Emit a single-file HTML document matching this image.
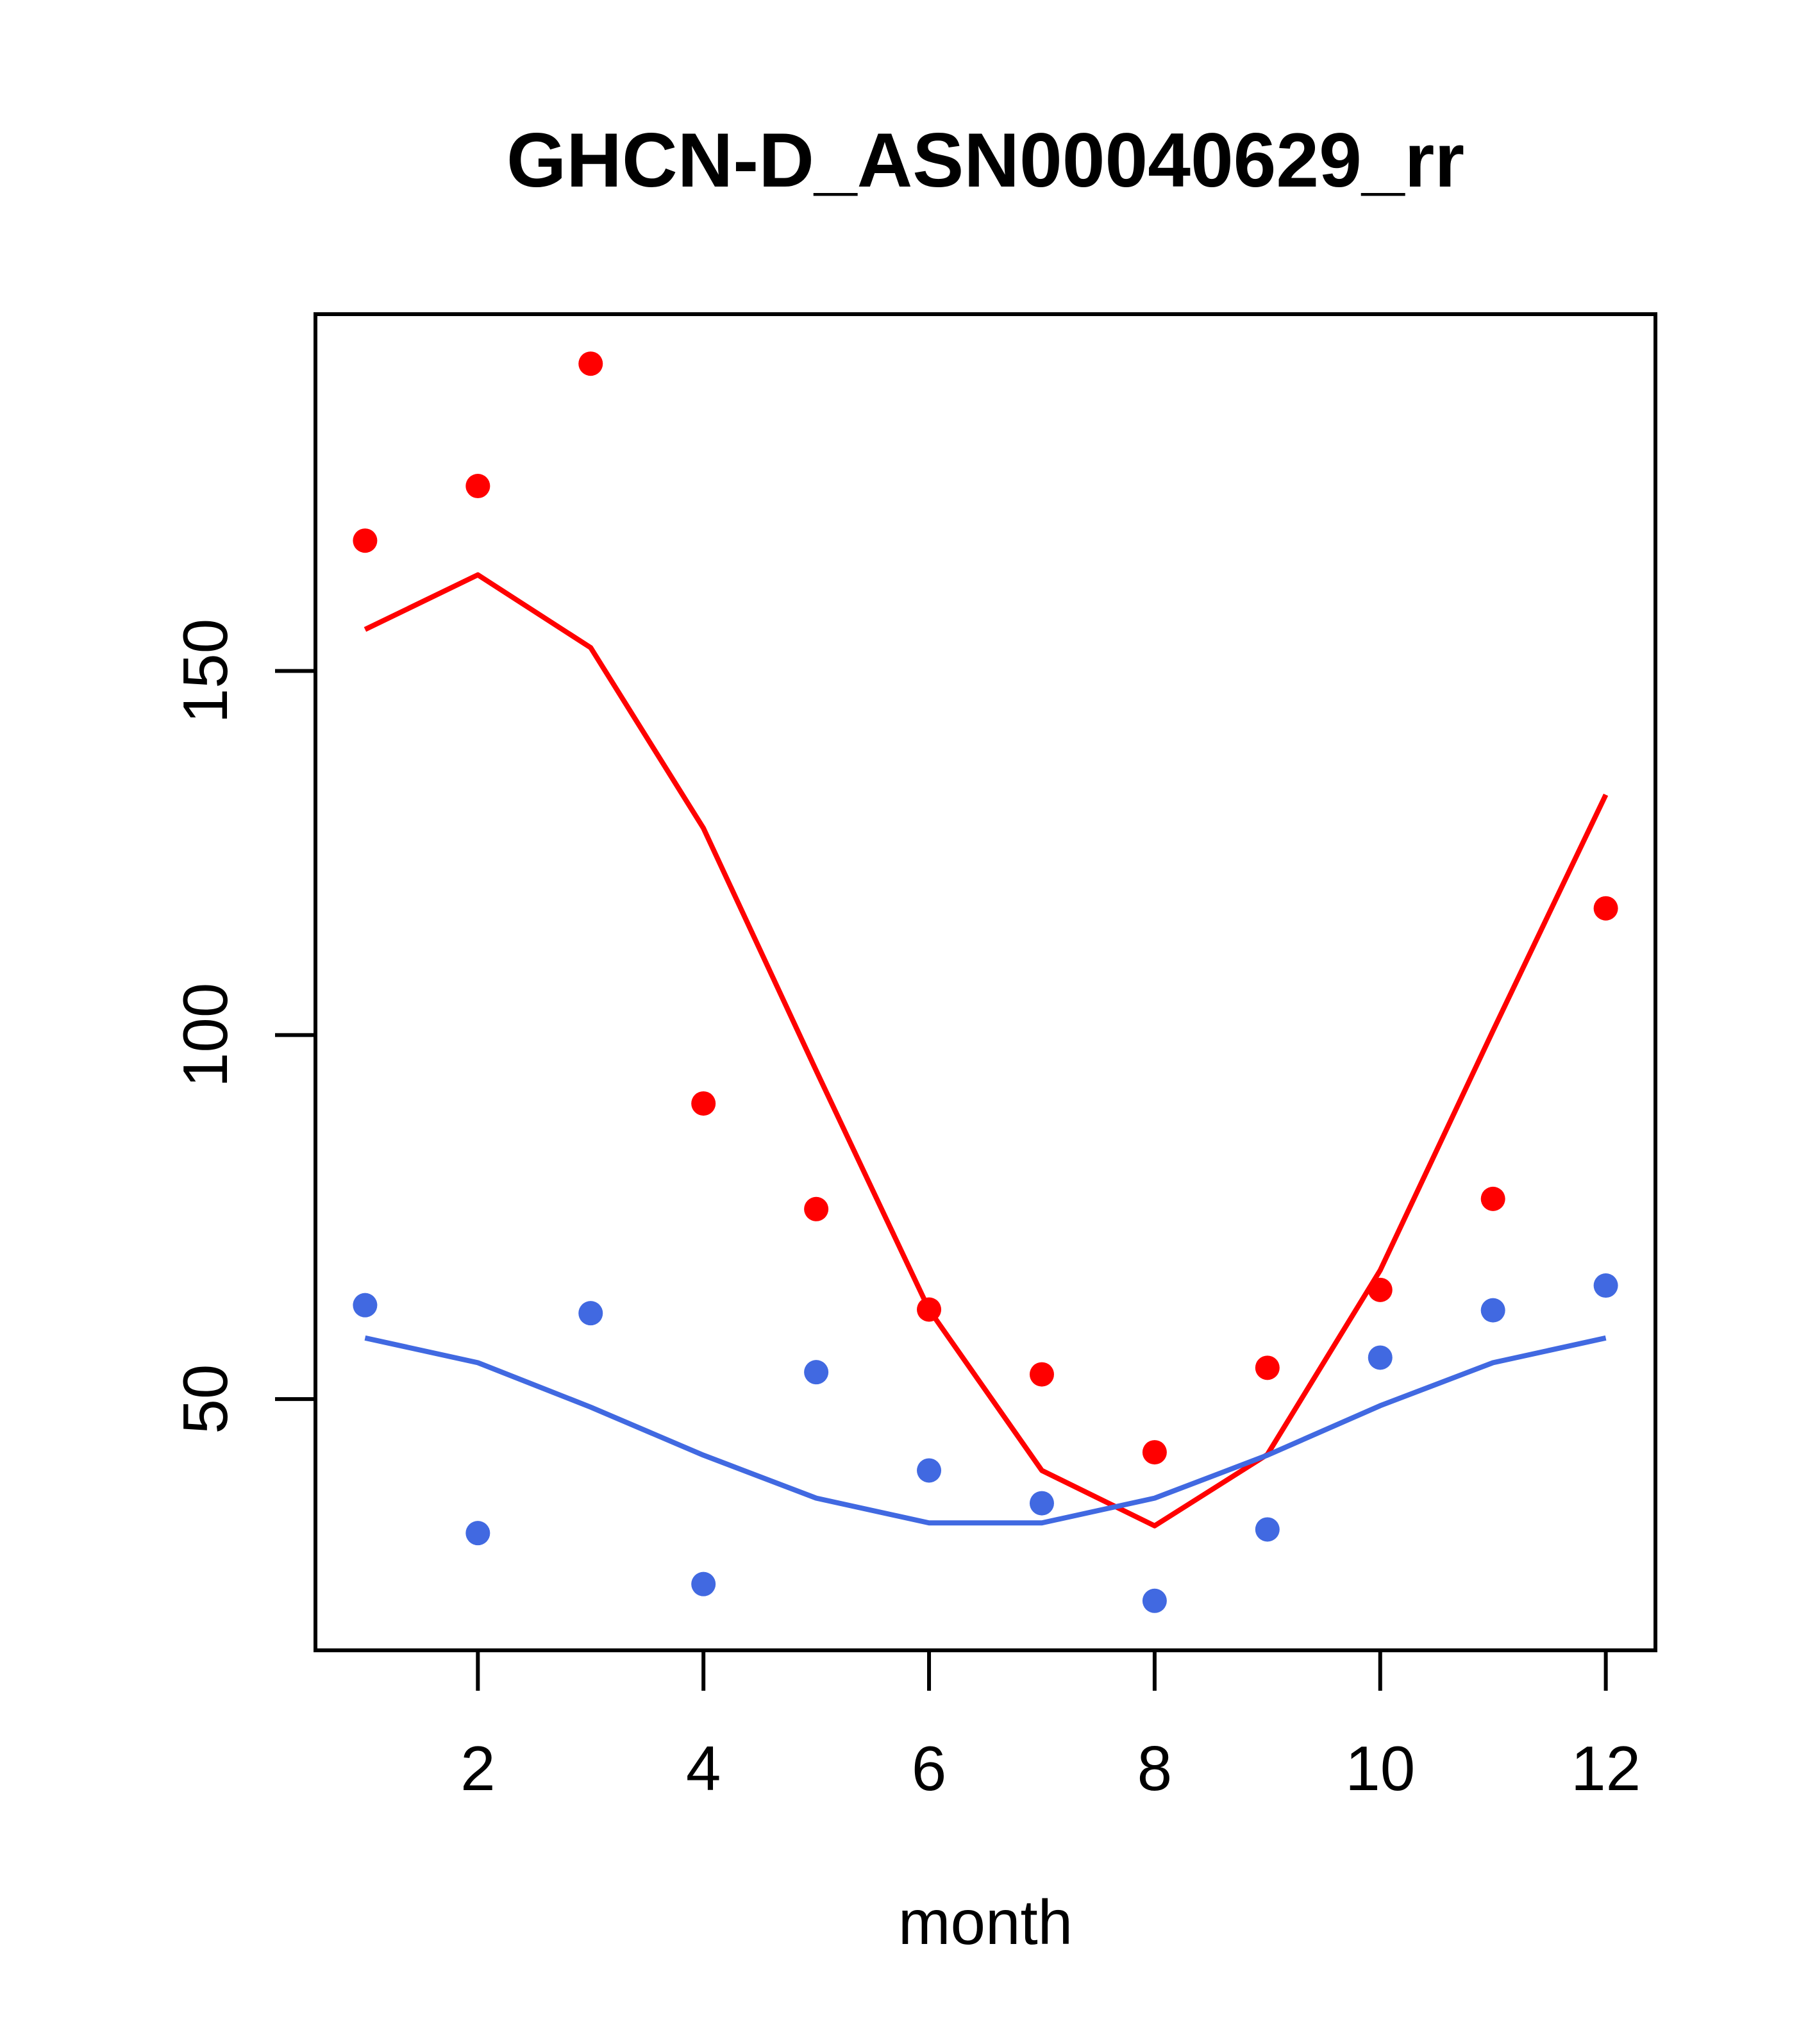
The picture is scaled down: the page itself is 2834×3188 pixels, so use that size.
<!DOCTYPE html>
<html><head><meta charset="utf-8"><style>html,body{margin:0;padding:0;background:#fff}svg{display:block}</style></head>
<body>
<svg id="chart" width="2834" height="3188" xmlns="http://www.w3.org/2000/svg" font-family="'Liberation Sans', sans-serif">
<rect width="2834" height="3188" fill="#fff"/>
<text x="1537" y="291" text-anchor="middle" font-size="120" font-weight="bold">GHCN-D_ASN00040629_rr</text>
<g id="plot"></g>
<text x="1537" y="3032" text-anchor="middle" font-size="98">month</text>
</svg>
<script>
const months = [1,2,3,4,5,6,7,8,9,10,11,12];
const redPoints = [167.9,175.4,192.2,90.6,76.1,62.3,53.4,42.7,54.3,65.0,77.5,117.4];
const redLine = [155.7,163.2,153.2,128.4,95.1,62.3,40.2,32.6,42.4,67.7,100.6,133.0];
const bluePoints = [62.9,31.6,61.8,24.6,53.7,40.2,35.7,22.3,32.1,55.7,62.2,65.6];
const blueLine = [58.4,55.0,48.9,42.3,36.4,33.0,33.0,36.4,42.3,49.1,55.0,58.4];
const xTicks = [2,4,6,8,10,12];
const yTicks = [50,100,150];

const NS = 'http://www.w3.org/2000/svg';
const L = 492, R = 2582, T = 490, B = 2574;
const xMin = 0.56, xMax = 12.44, yMin = 15.5, yMax = 199.0;
const xs = v => L + (v - xMin) / (xMax - xMin) * (R - L);
const ys = v => B - (v - yMin) / (yMax - yMin) * (B - T);
const g = document.getElementById('plot');
function mk(tag, attrs) { const e = document.createElementNS(NS, tag); for (const k in attrs) e.setAttribute(k, attrs[k]); g.appendChild(e); return e; }

const frame = mk('rect', {x: L, y: T, width: R - L, height: B - T, fill: 'none', stroke: '#000', 'stroke-width': 6});



xTicks.forEach(t => {
  const tk = mk('line', {x1: xs(t), x2: xs(t), y1: B, y2: B + 63, stroke: '#000', 'stroke-width': 6});
  
  
  const lb = mk('text', {x: xs(t), y: 2792, 'text-anchor': 'middle', 'font-size': 98});
  lb.textContent = t;
  
  
});
yTicks.forEach(t => {
  const tk = mk('line', {x1: L, x2: L - 63, y1: ys(t), y2: ys(t), stroke: '#000', 'stroke-width': 6});
  
  
  const lb = mk('text', {x: 0, y: 0, 'text-anchor': 'middle', 'font-size': 98, transform: `translate(354,${ys(t)}) rotate(-90)`});
  lb.textContent = t;
  
  
});

function line(vals, color, name) {
  const p = mk('polyline', {points: vals.map((v, i) => xs(months[i]) + ',' + ys(v)).join(' '), fill: 'none', stroke: color, 'stroke-width': 8, 'stroke-linejoin': 'round'});
  
  
}
function pts(vals, color, name) {
  vals.forEach((v, i) => {
    const c = mk('circle', {cx: xs(months[i]), cy: ys(v), r: 19, fill: color});
    
    
  });
}
line(redLine, '#ff0000', 'red-line');
line(blueLine, '#4169e1', 'blue-line');
pts(redPoints, '#ff0000', 'red-point');
pts(bluePoints, '#4169e1', 'blue-point');
</script>
</body></html>
